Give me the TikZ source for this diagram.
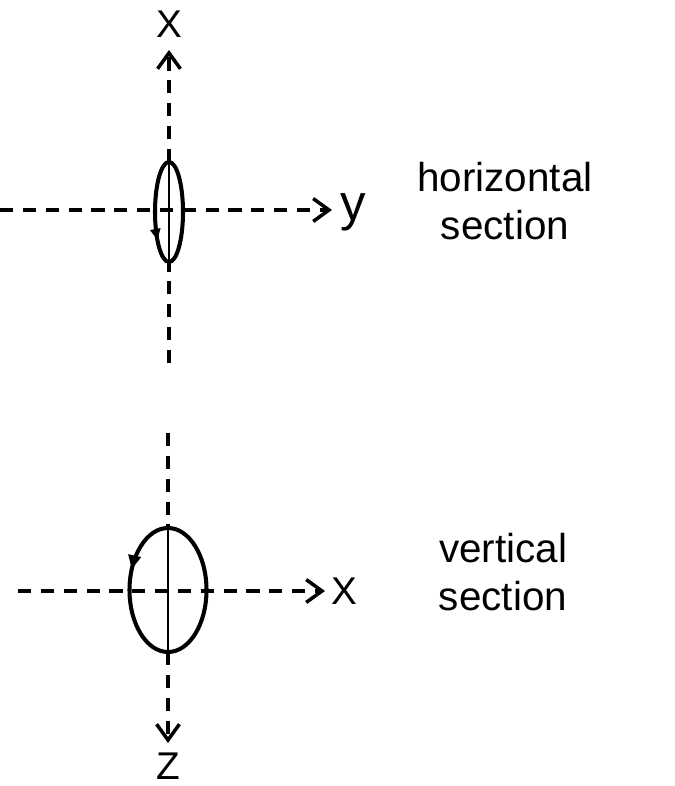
\documentclass[tikz,border=0pt]{standalone}
\usepackage{fontspec}
\setmainfont{Liberation Sans}
\usetikzlibrary{arrows.meta,decorations.markings}

\begin{document}
\begin{tikzpicture}[x=0.02cm,y=-0.02cm,
  axisline/.style={line width=2pt,dash pattern=on 7.5pt off 5.5pt,-{Straight Barb[length=9pt,width=13pt]}},
  plainaxis/.style={line width=2pt,dash pattern=on 7.5pt off 5.5pt},
  orbit/.style={line width=2.3pt},
  midline/.style={line width=1.5pt},
  axlabel/.style={inner sep=0pt,font=\fontsize{22pt}{26pt}\selectfont},
  sectext/.style={inner sep=0pt,align=center,font=\fontsize{23pt}{27.5pt}\selectfont}]
\useasboundingbox (0,0) rectangle (674,786);
\coordinate (hc) at (169,212);
\coordinate (hxs) at (169,363);
\coordinate (hxe) at (169,50);
\coordinate (hys) at (0,210);
\coordinate (hye) at (332,210);
\coordinate (hmt) at (169,162);
\coordinate (hmb) at (169,262);
\node[axlabel] (hx) at (169,24) {X};
\node[axlabel,font=\fontsize{29pt}{32pt}\selectfont] (hy) at (353,212) {y};
\draw[plainaxis] (hxs)--(hmb);
\draw[axisline] (hmt)--(hxe);
\draw[axisline] (hys)--(hye);
\draw[midline] (hmt)--(hmb);
\draw[orbit,postaction={decorate},decoration={markings,mark=at position 0.37 with {\arrowreversed[scale=0.8]{Triangle[length=8pt,width=7pt]}}}] (hc) ellipse [x radius=14,y radius=50];
\node[sectext] (htext) at (505,201) {horizontal\\section};
\coordinate (vc) at (168,590);
\coordinate (vzs) at (168,433);
\coordinate (vze) at (168,743);
\coordinate (vxs) at (18,591);
\coordinate (vxe) at (325,591);
\coordinate (vmt) at (168,528);
\coordinate (vmb) at (168,652);
\node[axlabel] (vz) at (168,766) {Z};
\node[axlabel] (vx) at (344,591) {X};
\draw[plainaxis] (vzs)--(vmt);
\draw[axisline] (vmb)--(vze);
\draw[axisline] (vxs)--(vxe);
\draw[midline] (vmt)--(vmb);
\draw[orbit,postaction={decorate},decoration={markings,mark=at position 0.565 with {\arrowreversed{Triangle[length=8pt,width=7pt]}}}] (vc) ellipse [x radius=38.5,y radius=62];
\node[sectext] (vtext) at (503,572) {vertical\\section};
\end{tikzpicture}
\end{document}
